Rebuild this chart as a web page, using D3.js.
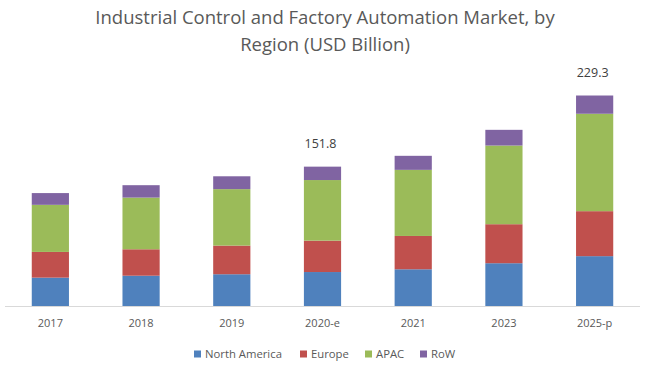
<!DOCTYPE html>
<html>
<head>
<meta charset="utf-8">
<script src="https://cdn.jsdelivr.net/npm/d3@7"></script>
<style>
  html, body { margin: 0; padding: 0; background: #fff; }
  svg { display: block; font-family: "Open Sans", "Noto Sans", sans-serif; }
</style>
</head>
<body>
<svg id="chart" width="650" height="372"></svg>
<script>
// ── data ───────────────────────────────────────────────────────────────────
const years = ['2017', '2018', '2019', '2020-e', '2021', '2023', '2025-p'];
const northAmerica = [30.9, 33.0, 34.6, 37.0, 40.0, 46.6, 54.3];
const europe       = [28.0, 28.8, 31.2, 34.2, 36.3, 42.5, 49.0];
const apac         = [51.3, 56.3, 61.5, 66.0, 72.0, 85.7, 106.1];
const row          = [12.8, 13.5, 14.0, 14.6, 15.3, 17.1, 19.9];
const seriesNames  = ['North America', 'Europe', 'APAC', 'RoW'];
const seriesColors = ['#4F81BD', '#C0504D', '#9BBB59', '#8064A2'];
const totalLabels  = [{ year: '2020-e', text: '151.8' }, { year: '2025-p', text: '229.3' }];

// ── setup ──────────────────────────────────────────────────────────────────
const svg = d3.select('#chart');
const base = 306;

const table = years.map((y, i) => ({
  year: y,
  'North America': northAmerica[i], 'Europe': europe[i], 'APAC': apac[i], 'RoW': row[i]
}));
const stacked = d3.stack().keys(seriesNames)(table);

const x = d3.scaleBand().domain(years).range([5, 640]).paddingInner(0.59).paddingOuter(0.295);
const y = d3.scaleLinear().domain([0, 250]).range([base, base - 250 * 0.918]);
const color = d3.scaleOrdinal().domain(seriesNames).range(seriesColors);

// title
const title = svg.append('text')
  .attr('x', 325).attr('text-anchor', 'middle')
  .attr('font-size', 18.5).attr('fill', '#595959');
title.append('tspan').attr('x', 325).attr('y', 24).text('Industrial Control and Factory Automation Market, by');
title.append('tspan').attr('x', 325).attr('y', 51).text('Region (USD Billion)');

// axis line
svg.append('line')
  .attr('x1', 5).attr('x2', 640).attr('y1', base + 0.5).attr('y2', base + 0.5)
  .attr('stroke', '#d9d9d9').attr('stroke-width', 1);

// bars
svg.append('g').selectAll('g').data(stacked).join('g')
  .attr('fill', d => color(d.key))
  .selectAll('rect').data(d => d).join('rect')
  .attr('x', d => x(d.data.year))
  .attr('width', x.bandwidth())
  .attr('y', d => y(d[1]))
  .attr('height', d => y(d[0]) - y(d[1]));

// x axis labels
const xAxis = svg.append('g').attr('transform', `translate(0,${base})`)
  .call(d3.axisBottom(x).tickSize(0).tickPadding(13));
xAxis.select('.domain').remove();
xAxis.selectAll('text').attr('font-size', 11).attr('fill', '#595959')
  .attr('font-family', '"Open Sans", "Noto Sans", sans-serif');

// total labels
const totals = years.map((yr, i) => northAmerica[i] + europe[i] + apac[i] + row[i]);
svg.append('g').selectAll('text').data(totalLabels).join('text')
  .attr('x', d => x(d.year) + x.bandwidth() / 2 - 2)
  .attr('y', d => y(totals[years.indexOf(d.year)]) - 19)
  .attr('text-anchor', 'middle')
  .attr('font-size', 12.5).attr('fill', '#404040')
  .text(d => d.text);

// legend
const legendX = [194, 300, 365, 420];
const leg = svg.append('g').selectAll('g').data(seriesNames).join('g')
  .attr('transform', (d, i) => `translate(${legendX[i]},354)`);
leg.append('rect').attr('x', 0).attr('y', -3.5).attr('width', 7).attr('height', 7)
  .attr('fill', d => color(d));
leg.append('text').attr('x', 11).attr('y', 4)
  .attr('font-size', 11.3).attr('fill', '#595959')
  .text(d => d);
</script>
</body>
</html>
